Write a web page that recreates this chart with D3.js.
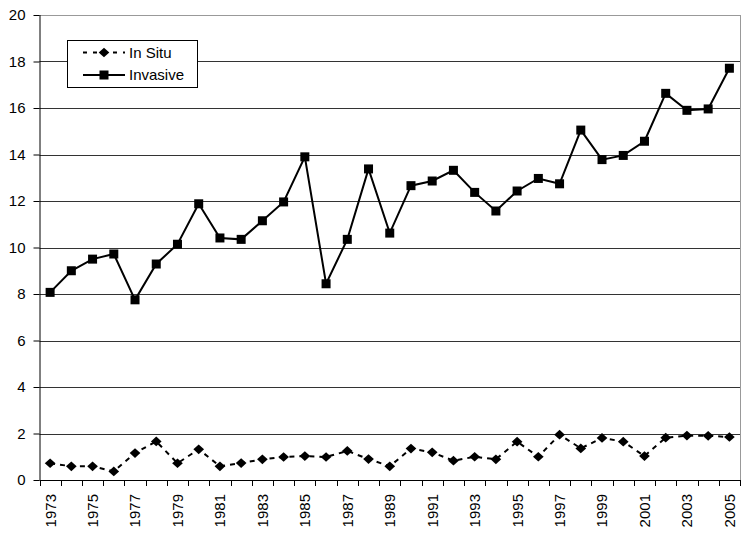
<!DOCTYPE html>
<html><head><meta charset="utf-8">
<script src="https://cdn.jsdelivr.net/npm/d3@7"></script>
<style>body{margin:0;background:#fff}svg{display:block}text{font-family:Arial,"Liberation Sans",sans-serif}</style>
</head><body><svg id="c" width="749" height="537"></svg>
<script>
const years = d3.range(1973, 2006);
const invasive = [8.07,9.0,9.5,9.72,7.75,9.29,10.14,11.88,10.41,10.35,11.15,11.96,13.9,8.44,10.35,13.38,10.62,12.66,12.86,13.32,12.37,11.57,12.43,12.97,12.74,15.05,13.78,13.96,14.57,16.63,15.9,15.96,17.71];
const inSitu = [0.72,0.59,0.59,0.37,1.16,1.66,0.72,1.32,0.59,0.73,0.89,0.99,1.03,0.99,1.25,0.9,0.59,1.35,1.19,0.83,1.0,0.89,1.65,1.0,1.95,1.36,1.81,1.65,1.03,1.82,1.91,1.9,1.85];
const yTicks = [0,2,4,6,8,10,12,14,16,18,20];
const seriesNames = ["In Situ","Invasive"];

const svg = d3.select("#c");
const L = 39.5, R = 740, T = 15, B = 480;
const x = d3.scaleBand().domain(years).range([L, R]);
const y = d3.scaleLinear().domain([0,20]).range([B, T]);
const cx = d => x(d) + x.bandwidth()/2;

// gridlines
svg.append("g").selectAll("line").data(yTicks.filter(t=>t>0)).join("line")
  .attr("x1", L).attr("x2", R).attr("y1", d=>Math.round(y(d))+0.5).attr("y2", d=>Math.round(y(d))+0.5)
  .attr("stroke", d=> d===20 ? "#999" : "#333").attr("stroke-width",1);
// right border
svg.append("line").attr("x1",R+0.5).attr("x2",R+0.5).attr("y1",T).attr("y2",B).attr("stroke","#999");

// y axis
const ya = svg.append("g").attr("transform",`translate(${L},0)`)
  .call(d3.axisLeft(y).tickValues(yTicks).tickSize(6).tickPadding(8).tickFormat(d3.format("d")));
ya.selectAll("text").attr("font-size",15).attr("fill","#000").attr("font-family",null);
ya.selectAll("line,path").attr("stroke","#000");
ya.select(".domain").attr("d",`M0.5,${T}V${B}`);
ya.attr("font-family",null);

// x axis
const xa = svg.append("g").attr("transform",`translate(0,${B})`)
  .call(d3.axisBottom(x).tickValues(years.filter((d,i)=>i%2===0)).tickSize(0).tickFormat(d3.format("d")));
xa.attr("font-family",null);
xa.select(".domain").attr("stroke","#000").attr("d",`M${L},0.5H${R}`);
xa.selectAll(".tick line").remove();
xa.selectAll(".tick text").attr("font-size",15).attr("fill","#000")
  .attr("transform","rotate(-90)").attr("text-anchor","end").attr("dx","-14px").attr("dy","0.36em").attr("y",0).attr("x",0);
// boundary tick marks
svg.append("g").selectAll("line").data(d3.range(years.length+1)).join("line")
  .attr("x1", i=>Math.round(L + i*x.step())+0.5).attr("x2", i=>Math.round(L + i*x.step())+0.5)
  .attr("y1", B).attr("y2", B+6).attr("stroke","#000");

const line = d3.line().x((d,i)=>cx(years[i])).y(d=>y(d));
svg.append("path").datum(inSitu).attr("d",line).attr("fill","none").attr("stroke","#000")
  .attr("stroke-width",2).attr("stroke-dasharray","5,5");
svg.append("path").datum(invasive).attr("d",line).attr("fill","none").attr("stroke","#000").attr("stroke-width",2);

const diamond = d3.symbol().type(d3.symbolDiamond2).size(60);
svg.append("g").selectAll("path").data(inSitu).join("path")
  .attr("d", diamond).attr("transform",(d,i)=>`translate(${cx(years[i])},${y(d)}) scale(1.1,1)`).attr("fill","#000");
svg.append("g").selectAll("rect").data(invasive).join("rect")
  .attr("x",(d,i)=>cx(years[i])-4.5).attr("y",d=>y(d)-4.5).attr("width",9).attr("height",9).attr("fill","#000");

// legend
const lg = svg.append("g");
lg.append("rect").attr("x",67.5).attr("y",40.5).attr("width",130).attr("height",47).attr("fill","#fff").attr("stroke","#000");
const ly = [52.5, 75];
lg.append("line").attr("x1",83).attr("x2",125).attr("y1",ly[0]).attr("y2",ly[0]).attr("stroke","#000").attr("stroke-width",2).attr("stroke-dasharray","4,6");
lg.append("path").attr("d",diamond).attr("transform",`translate(104,${ly[0]}) scale(1.1,1)`);
lg.append("line").attr("x1",83).attr("x2",125).attr("y1",ly[1]).attr("y2",ly[1]).attr("stroke","#000").attr("stroke-width",2);
lg.append("rect").attr("x",99.5).attr("y",ly[1]-4.5).attr("width",9).attr("height",9);
lg.selectAll("text").data(seriesNames).join("text").attr("x",129).attr("y",(d,i)=>ly[i]+5).attr("font-size",15).text(d=>d);
</script></body></html>
